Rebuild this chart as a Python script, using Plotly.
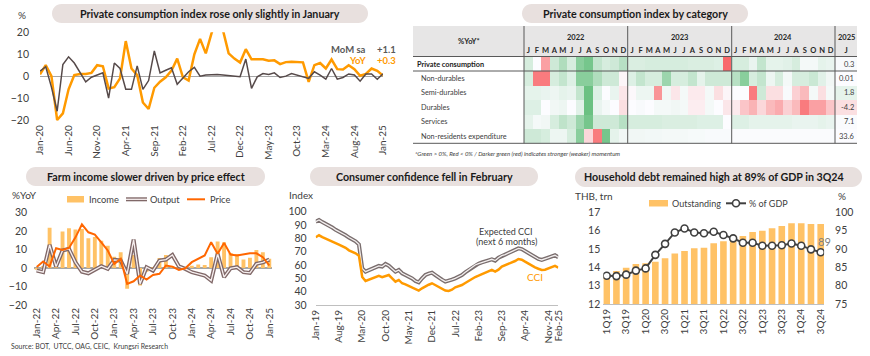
import plotly.graph_objects as go
import pandas as pd

W, H = 870, 356
FONT = "Lato"
TXT = "#404040"
ORANGE = "#FF9A00"
BAR = "#FFC266"
PILL = "#E8E0DE"


def X(p):
    return p / W


def Y(p):
    return 1 - p / H


# ---------------- data ----------------
# Panel 1: private consumption index (%)
pc_months = pd.date_range("2020-01-01", "2025-01-01", freq="MS").strftime("%b-%y").tolist()
pc_yoy = [0.8, 5, 0, -20, -17, -6, 0.5, 1, 1, 1.5, 5, 4.5, -5.6, -5, -1, 16,
          3.5, 0.5, -12, -15, -5.3, -2.5, -0.5, 2.5, 8, -0.5, -2, 10, 17, 10.4,
          19.5, 27, 21, 10.4, 8, 6.2, 12.3, 7.7, 7.7, 7.7, 7.0, 7.2, 5.5, 6.4,
          6.6, 6.6, 6.3, -2.6, 5, 6, 3.5, 7.6, 3.2, 3, 5, 3.2, 0.2, 1, 3.5, 2.4, 0.3]
pc_mom = [2.3, 4.3, -5, -16, 5.3, 8.8, 6, 1.5, -2.6, -0.5, 0.5, 1.5, -10, 6,
          3.5, -6, -6, 4.7, -6, -2, 11.5, 1.5, 2.7, 3.8, -3.7, -1, 2, 4, 0,
          0.5, 0.8, 0.8, 0.5, 0.2, 0, -0.3, 7.8, -5.6, -0.3, 1.2, 0.8, 1.5,
          -0.6, 0, 1.2, 0.5, -0.3, -1, 2, 0.5, -1.4, 3.5, -1.4, -0.6, 1, 0.5,
          -2.3, 1, 1, -1.4, 1.1]
pc_ticks = pc_months[::5]

# Panel 2: heatmap table (colour level: + green / - red)
heat_rows = ["Private consumption", "Non-durables", "Semi-durables", "Durables",
             "Services", "Non-residents expenditure"]
heat_years = ["2022", "2023", "2024"]
heat_letters = list("JFMAMJJASOND") * 3
heat_private = [1, 0, -2.5, 1.2, 2, 1, 3, 3.5, 1.5, 1, 1.2, 1.8,
                0.9, 0.9, 1, 1, 1, 1, 1, 0.9, 0.9, 0.9, 0.8, -4,
                1, 1, 0.5, 1.5, 0.6, 0.6, 0.7, 1, 0.2, 0.2, 0.6, 0.5]
heat_nondur = [1, -3.5, -3.5, 1, 1.5, 0.8, 3, 3, 2, 1.2, 1.2, -0.2,
               0.8, 1.5, 1, 1, 2.5, 1, 1, 1.5, 0.6, 1.2, 1.2, 1.2,
               1.8, 3, 1, 1.5, 0.4, 1, 0.2, 1, 1, 1.3, 0.7, 0.3]
heat_semidur = [0.6, 0.6, 0.5, 0.4, 0.6, 0.5, 1.5, 3.8, 0.8, 0, 0.5, -0.6,
                -0.1, 0.4, 0.4, -2.8, 0.3, -0.6, 0.2, -0.5, -0.5, 0.2, -0.8, -0.2,
                0, 0, -3.5, 1.2, -0.8, -0.8, 0.1, -1.2, -1.8, 0.2, -0.8, 0.2]
heat_durables = [0.8, 0.8, 0, 0.3, 0.4, 0, 0.7, 3.8, 0.5, 0.2, 0, -0.8,
                 0, 0.1, 0, 0.2, 0.2, 0.3, 0.2, -0.4, -0.4, 0.2, 0, -0.6,
                 -0.5, -1.5, -2, -1, -1.8, -2.2, -1.2, -1.8, -3.5, -2.5, -2.5, -1.5]
heat_services = [0.6, 0.2, 0.3, 1, 1.6, 1.2, 2.5, 3.5, 1.2, 1.2, 1.2, 1.8,
                 1, 1, 1, 1, 0.9, 0.9, 0.9, 0.9, 0.8, 0.8, 0.8, 0,
                 0.8, 0.8, 0.6, 0.6, 0.6, 0.6, 0.6, 0.5, 0.5, 0.5, 0.6, 0.5]
heat_nonres = [1.2, 1.2, 1, 0.4, 0.4, 1, 3, -1, -3.5, 3.5, 0.6, 0.3,
               0.3, 0.3, 0.25, 0.25, 0.2, 0.2, 0.2, 0.15, 0.15, 0.1, 0.1, 0.1,
               0.05, 0.05, 0.05, 0.05, 0.05, 0.05, 0.05, 0.05, 0.05, 0.05, 0.05, 0.05]
latest_labels = ["0.3", "0.01", "1.8", "-4.2", "7.1", "33.6"]
latest_levels = [0.1, 0, 0.6, -0.8, 0.05, 0]

# Panel 3: farm income (%YoY)
farm_months = pd.date_range("2022-01-01", "2025-01-01", freq="MS").strftime("%b-%y").tolist()
farm_income = [-1, 1, 21.6, 0.5, 19.6, 21.4, 20.7, 21, 16, 16.7, 14.7, 12, 6, 8.5,
               -11.3, 7, -9.5, -2, 0.5, 5.4, 7, 1, 0.5, 0.5, 1.2, 1.8, 1.6, 5.8,
               14.2, 13.8, 8, 7.5, 4.5, 5.5, 9.7, 8.5, 5]
farm_output = [-1.4, -2.3, 12.4, 0.7, 9.4, 10.3, 3, -2, -2.9, -0.9, 0.9, -0.5,
               4.3, 4, -3.2, 15.3, -8.6, 0.4, -1.4, 4, 4.5, 7, 0.9, -0.5, -2.3,
               -3.2, -4.1, -6.8, 7.6, -5, -0.2, 0.4, -2.3, -2.7, 2.2, 3, 4.5]
farm_price = [0.5, 3.5, 0.8, 10.6, 9.7, 10.8, 16.5, 23.5, 19.2, 18, 13.8, 9.4,
              2.2, 4.9, -8.6, -7.2, -4.1, -6.3, -3.8, -3.2, 1.3, 0.7, -1.1, -0.2,
              3.1, 4.9, 6.7, 13.9, 7.6, 13.5, 7.2, 6.7, 7.2, 7.9, 7.9, 5.8, 1.3]
farm_ticks = farm_months[::3]

# Panel 4: consumer confidence (index)
cci_months = pd.date_range("2019-01-01", "2025-02-01", freq="MS").strftime("%b-%y").tolist()
cci_expected = [92.5, 93.8, 92.2, 91.0, 89.3, 88.1, 86.4, 85.2, 83.5, 82.3, 80.6, 79.4,
                77.8, 75.5, 57.5, 55, 56, 57.5, 58.5, 59.3, 58.8, 60.8, 59.5, 57.5,
                55, 56.3, 53.8, 52.5, 51.5, 50, 48, 47, 50, 52.5, 53.5, 54.3,
                52.5, 50.5, 49, 47.5, 48, 49, 50, 51.2, 52.5, 54.5, 56.3, 58,
                60, 61, 62, 62.5, 63.5, 64.3, 63.3, 65.5, 67, 67.8, 69, 70,
                71, 72.5, 72, 70.5, 69, 67.3, 65.8, 64.5, 63.8, 64.5, 65.5, 66.5,
                67.3, 65.8]
cci_index = [80.8, 82.3, 81.0, 80.0, 78.7, 77.6, 76.4, 75.3, 74.1, 72.9, 71, 70,
             68.8, 67, 51, 48, 48.8, 50, 50.8, 51.8, 50.8, 51.5, 52.5, 50,
             47.5, 48.8, 46.3, 45.5, 44.3, 43.3, 42, 40.8, 42.5, 44, 45.2, 46.3,
             45, 43.3, 42, 40.8, 40.5, 41.5, 43.3, 44, 45, 46.5, 48, 50,
             51, 52, 53, 53.8, 55, 56.3, 55, 56.5, 58.8, 59.8, 60.8, 61.8,
             63, 64.5, 64, 62.5, 61, 59.5, 58.3, 57.2, 56.3, 56.5, 57.5, 58.3,
             59.3, 58]
cci_ticks = cci_months[::7] + [cci_months[-1]]

# Panel 5: household debt
hh_quarters = [f"{q}Q{y}" for y in range(19, 25) for q in range(1, 5)][:23]
hh_outstanding = [13.6, 13.8, 13.98, 14.18, 14.22, 14.31, 14.49, 14.76, 14.89, 15.04,
                  15.07, 15.31, 15.42, 15.49, 15.71, 15.93, 16.0, 16.13, 16.25, 16.4,
                  16.4, 16.36, 16.36]
hh_pct_gdp = [82.7, 82.6, 83.0, 84.1, 84.7, 88.4, 91.4, 94.5, 95.6, 94.5, 94.3, 94.7,
              93.8, 92.9, 91.7, 91.7, 90.9, 90.9, 91.0, 91.5, 90.9, 89.9, 89.1]
hh_ticks = hh_quarters[::2]

# ---------------- figure ----------------
fig = go.Figure()

# Panel 1
fig.add_trace(go.Scatter(x=pc_months, y=pc_yoy, xaxis="x", yaxis="y", mode="lines",
                         line=dict(color=ORANGE, width=2.5), hoverinfo="skip"))
fig.add_trace(go.Scatter(x=pc_months, y=pc_mom, xaxis="x", yaxis="y", mode="lines",
                         line=dict(color="#564a4a", width=1.5), hoverinfo="skip"))

# Panel 2
scale = [[0, "#F8696B"], [0.5, "#FCFCFF"], [1, "#63BE7B"]]
heat_z = [heat_private, heat_nondur, heat_semidur, heat_durables, heat_services, heat_nonres]
fig.add_trace(go.Heatmap(z=heat_z, x=list(range(36)), y=list(range(6)), xaxis="x2", yaxis="y2",
                         colorscale=scale, zmin=-4, zmax=4, showscale=False, hoverinfo="skip"))
fig.add_trace(go.Heatmap(z=[[v] for v in latest_levels], x=[0], y=list(range(6)),
                         xaxis="x3", yaxis="y3", colorscale=scale, zmin=-4, zmax=4,
                         showscale=False, hoverinfo="skip"))

# Panel 3
fig.add_trace(go.Bar(x=farm_months, y=farm_income, xaxis="x4", yaxis="y4",
                     marker=dict(color=BAR, line=dict(width=0)), width=0.6, hoverinfo="skip"))
fig.add_trace(go.Scatter(x=farm_months, y=farm_output, xaxis="x4", yaxis="y4", mode="lines",
                         line=dict(color="#806868", width=4), hoverinfo="skip"))
fig.add_trace(go.Scatter(x=farm_months, y=farm_output, xaxis="x4", yaxis="y4", mode="lines",
                         line=dict(color="#F6EFEF", width=1.3), hoverinfo="skip"))
fig.add_trace(go.Scatter(x=farm_months, y=farm_price, xaxis="x4", yaxis="y4", mode="lines",
                         line=dict(color="#FF6600", width=2), hoverinfo="skip"))

# Panel 4
fig.add_trace(go.Scatter(x=cci_months, y=cci_expected, xaxis="x5", yaxis="y5", mode="lines",
                         line=dict(color="#7a6e6e", width=4), hoverinfo="skip"))
fig.add_trace(go.Scatter(x=cci_months, y=cci_expected, xaxis="x5", yaxis="y5", mode="lines",
                         line=dict(color="#F2EEEE", width=1.3), hoverinfo="skip"))
fig.add_trace(go.Scatter(x=cci_months, y=cci_index, xaxis="x5", yaxis="y5", mode="lines",
                         line=dict(color=ORANGE, width=2.5), hoverinfo="skip"))

# Panel 5
fig.add_trace(go.Bar(x=hh_quarters, y=hh_outstanding, xaxis="x6", yaxis="y6",
                     marker=dict(color=BAR, line=dict(width=0)), width=0.68, hoverinfo="skip"))
fig.add_trace(go.Scatter(x=hh_quarters, y=hh_pct_gdp, xaxis="x6", yaxis="y7", mode="lines+markers",
                         line=dict(color="#404040", width=2),
                         marker=dict(symbol="circle", size=7, color="white",
                                     line=dict(color="#404040", width=1.6)),
                         hoverinfo="skip"))

tf = dict(family=FONT, size=10, color=TXT)
base_x = dict(type="category", showgrid=False, zeroline=False, showline=False, ticks="",
              tickangle=-90, tickfont=tf, automargin=False)
base_y = dict(showgrid=False, ticks="", tickfont=dict(family=FONT, size=10.5, color=TXT),
              showline=False, automargin=False)

layout_axes = dict(
    xaxis=dict(base_x, domain=[X(40), X(383)], range=[0, 60], tickvals=pc_ticks, anchor="y"),
    yaxis=dict(base_y, domain=[Y(122.2), Y(32.3)], range=[-21, 20], tickvals=[-20, -10, 0, 10, 20],
               zeroline=True, zerolinecolor="#A6A6A6", zerolinewidth=1.2, anchor="x",
               ticklabelstandoff=10),
    xaxis2=dict(domain=[X(524), X(835)], range=[-0.5, 35.5], side="top", anchor="y2",
                tickvals=list(range(36)), ticktext=[f"<b>{m}</b>" for m in heat_letters],
                tickfont=dict(family=FONT, size=7.5, color="#262626"), ticks="", showgrid=False,
                zeroline=False, showline=False, tickangle=0, ticklabelstandoff=1, automargin=False),
    yaxis2=dict(domain=[Y(143.3), Y(56.8)], range=[5.5, -0.5], showticklabels=False,
                showgrid=False, zeroline=False, anchor="x2", automargin=False),
    xaxis3=dict(domain=[X(835), X(857)], range=[-0.5, 0.5], side="top", anchor="y3",
                tickvals=[0], ticktext=["<b>J</b>"], tickfont=dict(family=FONT, size=7.5, color="#262626"),
                ticks="", showgrid=False, zeroline=False, showline=False, ticklabelstandoff=1,
                automargin=False),
    yaxis3=dict(domain=[Y(143.3), Y(56.8)], range=[5.5, -0.5], showticklabels=False,
                showgrid=False, zeroline=False, anchor="x3", automargin=False),
    xaxis4=dict(base_x, domain=[X(34.1), X(271.9)], range=[-0.4, 36.4], tickvals=farm_ticks, anchor="y4"),
    yaxis4=dict(base_y, domain=[Y(305), Y(212.3)], range=[-20, 30], tickvals=[-20, -10, 0, 10, 20, 30],
                zeroline=True, zerolinecolor="#A6A6A6", zerolinewidth=1.2, anchor="x4",
                ticklabelstandoff=6),
    xaxis5=dict(base_x, domain=[X(315.7), X(558.3)], range=[0, 73], tickvals=cci_ticks, anchor="y5"),
    yaxis5=dict(base_y, domain=[Y(305), Y(211.7)], range=[30, 100], dtick=10, anchor="x5",
                ticklabelstandoff=8),
    xaxis6=dict(base_x, domain=[X(603.3), X(824.1)], range=[-0.35, 22.35], tickvals=hh_ticks, anchor="y6"),
    yaxis6=dict(base_y, domain=[Y(304), Y(212.3)], range=[12, 17], dtick=1, anchor="x6",
                ticklabelstandoff=2),
    yaxis7=dict(base_y, range=[75, 100], dtick=5, overlaying="y6", side="right", anchor="x6",
                ticklabelstandoff=10),
)
# bottom axis lines for panels 4 and 5
layout_axes["xaxis5"].update(showline=True, linecolor="#BFBFBF", linewidth=1)
layout_axes["xaxis6"].update(showline=True, linecolor="#BFBFBF", linewidth=1)


def pill(x0, y0, x1, y1):
    r = (y1 - y0) / 2
    k = 0.5523 * r
    pts = [("M", [(x0 + r, y0)]), ("L", [(x1 - r, y0)]),
           ("C", [(x1 - r + k, y0), (x1, y0 + r - k), (x1, y0 + r)]),
           ("C", [(x1, y0 + r + k), (x1 - r + k, y1), (x1 - r, y1)]),
           ("L", [(x0 + r, y1)]),
           ("C", [(x0 + r - k, y1), (x0, y1 - r + k), (x0, y1 - r)]),
           ("C", [(x0, y1 - r - k), (x0 + r - k, y0), (x0 + r, y0)])]
    path = " ".join(c + " " + " ".join(f"{X(a):.5f},{Y(b):.5f}" for a, b in p) for c, p in pts) + " Z"
    return dict(type="path", path=path, xref="paper", yref="paper", fillcolor=PILL,
                line=dict(width=0), layer="below")


def hline(x0, x1, y, color="#595959", w=1):
    return dict(type="line", xref="paper", yref="paper", x0=X(x0), x1=X(x1), y0=Y(y), y1=Y(y),
                line=dict(color=color, width=w))


def vline(x, y0, y1, color="#595959", w=1):
    return dict(type="line", xref="paper", yref="paper", x0=X(x), x1=X(x), y0=Y(y0), y1=Y(y1),
                line=dict(color=color, width=w))


shapes = [pill(52, 4, 368, 23), pill(522, 4, 748, 23), pill(26, 167, 265, 186),
          pill(310, 167, 538, 186), pill(575, 167, 862, 187)]
# table header background and rules
shapes.append(dict(type="rect", xref="paper", yref="paper", x0=X(413), x1=X(857), y0=Y(56.5), y1=Y(26),
                   fillcolor="#E7E6E6", line=dict(width=0), layer="below"))
shapes += [hline(413, 857, 56.5), hline(413, 857, 71), hline(413, 857, 143.3)]
shapes += [vline(x, 26, 143.3) for x in (524, 627.7, 731.7, 835)]

# legend swatches
shapes.append(dict(type="rect", xref="paper", yref="paper", x0=X(67), x1=X(84), y0=Y(202.5), y1=Y(196),
                   fillcolor=BAR, line=dict(width=0)))
shapes.append(hline(126, 147, 199.3, "#806868", 4))
shapes.append(hline(126, 147, 199.3, "#F6EFEF", 1.3))
shapes.append(hline(187, 205, 199.3, "#FF6600", 2))
shapes.append(dict(type="rect", xref="paper", yref="paper", x0=X(649), x1=X(668), y0=Y(206.5), y1=Y(200),
                   fillcolor=BAR, line=dict(width=0)))
shapes.append(hline(726, 746, 203.3, "#404040", 2))
shapes.append(dict(type="circle", xref="paper", yref="paper", x0=X(732.5), x1=X(739.5), y0=Y(206.8),
                   y1=Y(199.8), fillcolor="white", line=dict(color="#404040", width=1.6)))


def txt(x, y, s, size=10, color=TXT, anchor="center", bold=False, italic=False):
    if bold:
        s = f"<b>{s}</b>"
    if italic:
        s = f"<i>{s}</i>"
    return dict(x=X(x), y=Y(y), xref="paper", yref="paper", text=s, showarrow=False,
                xanchor=anchor, yanchor="middle", font=dict(family=FONT, size=size, color=color))


TS = 10.7
ann = [
    txt(210, 13.5, "Private consumption index rose only slightly in January", TS, "#1a1a1a", bold=True),
    txt(635, 13.5, "Private consumption index by category", TS, "#1a1a1a", bold=True),
    txt(146, 176.5, "Farm income slower driven by price effect", TS, "#1a1a1a", bold=True),
    txt(424, 176.5, "Consumer confidence fell in February", TS, "#1a1a1a", bold=True),
    txt(714, 177, "Household debt remained high at 89% of GDP in 3Q24", TS, "#1a1a1a", bold=True),
    txt(22, 15, "%", 10),
    txt(368, 49.5, "MoM sa", 9.5, "#595959", "right", bold=True),
    txt(375, 49.5, "+1.1", 9.5, "#595959", "left", bold=True),
    txt(368, 60.5, "YoY", 9.5, ORANGE, "right", bold=True),
    txt(375, 60.5, "+0.3", 9.5, ORANGE, "left", bold=True),
    txt(469, 41.5, "%YoY*", 7.5, "#262626", bold=True),
    txt(10, 195, "%YoY", 10, anchor="left"),
    txt(87, 199.5, "Income", 9.3, anchor="left"),
    txt(148, 199.5, "Output", 9.3, anchor="left"),
    txt(208, 199.5, "Price", 9.3, anchor="left"),
    txt(9, 346, "Source: BOT,  UTCC, OAG, CEIC,  Krungsri Research", 6.9, anchor="left"),
    txt(287, 195, "Index", 10, anchor="left"),
    txt(506, 231, "Expected CCI", 9, TXT),
    txt(506, 241.5, "(next 6 months)", 9, TXT),
    txt(535, 277, "CCI", 10, ORANGE),
    txt(573, 196, "THB, trn", 10, anchor="left"),
    txt(842, 196, "%", 10),
    txt(670, 203.5, "Outstanding", 9, anchor="left"),
    txt(747, 203.5, "% of GDP", 9, anchor="left"),
    txt(824, 241, "89", 11, "#7F7F7F"),
    txt(413, 153, "*Green > 0%, Red < 0% / Darker green (red) indicates stronger (weaker) momentum",
        6, TXT, "left", italic=True),
    txt(846, 37.5, "2025", 7.5, "#262626", bold=True),
]
for i, yr in enumerate(heat_years):
    ann.append(txt(524 + (i + 0.5) * 103.67, 37.5, yr, 7.5, "#262626", bold=True))
row_top, row_h = 56.8, (143.3 - 56.8) / 6
for i, name in enumerate(heat_rows):
    yy = row_top + (i + 0.5) * row_h
    if i == 0:
        ann.append(txt(415, yy, name, 7.3, "#1a1a1a", "left", bold=True))
    else:
        ann.append(txt(419, yy, name, 7.3, TXT, "left"))
    ann.append(txt(855.5, yy, latest_labels[i], 7.5, TXT, "right"))

fig.update_layout(
    width=W, height=H, margin=dict(l=0, r=0, t=0, b=0, autoexpand=False),
    paper_bgcolor="white", plot_bgcolor="rgba(0,0,0,0)",
    showlegend=False, font=dict(family=FONT, color=TXT),
    shapes=shapes, annotations=ann, **layout_axes,
)

fig.write_html("out.html", config={"displayModeBar": False, "staticPlot": True},
               post_script="document.body.style.margin='0';document.body.style.padding='0';")
